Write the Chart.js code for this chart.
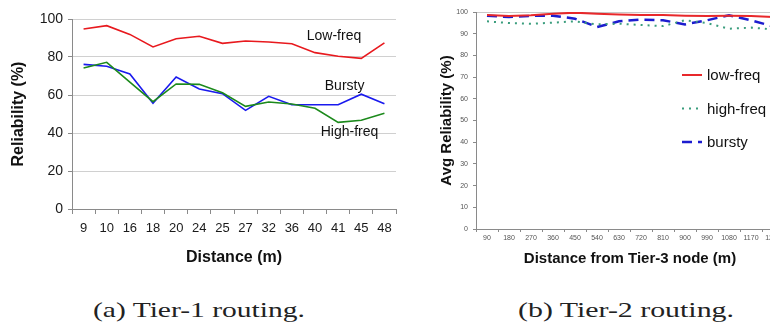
<!DOCTYPE html>
<html>
<head>
<meta charset="utf-8">
<script src="https://cdn.jsdelivr.net/npm/chart.js@4.4.1/dist/chart.umd.min.js"></script>
<style>
  html, body { margin:0; padding:0; background:#fff; width:770px; height:327px; overflow:hidden; position:relative; }
  .box { position:absolute; top:0; }
  .cap { position:absolute; font-family:"Liberation Serif","Times New Roman",serif; font-size:22px; line-height:1; color:#222; white-space:nowrap; transform-origin:0 0; }
</style>
</head>
<body>
<div class="box" style="left:0px;"><canvas id="c1" width="400" height="270"></canvas></div>
<div class="box" style="left:400px;"><canvas id="c2" width="400" height="270"></canvas></div>
<span class="cap" id="capA" style="left:93px; top:299px;">(a) Tier-1 routing.</span>
<span class="cap" id="capB" style="left:518px; top:299px;">(b) Tier-2 routing.</span>
<script>
// ---- Chart (a): Tier-1 routing ----
const distA = ['9','10','16','18','20','24','25','27','32','36','40','41','45','48'];
const lowA    = [94.7, 96.5, 91.9, 85.3, 89.6, 90.9, 87.2, 88.4, 87.9, 87.0, 82.3, 80.4, 79.3, 87.4];
const burstyA = [76.1, 75.1, 71.1, 55.6, 69.5, 63.2, 60.7, 51.9, 59.3, 54.9, 54.9, 54.9, 60.4, 55.4];
const highA   = [74.2, 77.2, 66.8, 56.5, 65.8, 65.6, 61.2, 54.0, 56.3, 55.3, 53.0, 45.6, 46.7, 50.4];
const yTicksA = [0, 20, 40, 60, 80, 100];

// ---- Chart (b): Tier-2 routing ----
const distB = ['90','180','270','360','450','540','630','720','810','900','990','1080','1170','1260'];
const lowB    = [98.6, 98.2, 98.5, 99.2, 99.7, 99.2, 98.9, 98.6, 98.6, 98.3, 98.2, 98.3, 98.2, 97.7];
const highB   = [95.7, 94.9, 94.6, 95.1, 95.7, 94.3, 94.6, 94.0, 93.5, 96.2, 94.9, 92.3, 92.8, 92.0];
const burstyB = [98.3, 97.7, 98.2, 98.3, 96.9, 93.1, 95.7, 96.5, 96.2, 94.3, 96.2, 98.5, 96.2, 93.4];
const yTicksB = [0, 10, 20, 30, 40, 50, 60, 70, 80, 90, 100];

Chart.defaults.font.family = "'Liberation Sans', Arial, sans-serif";
Chart.defaults.animation = false;

// in-chart series labels for (a): position given in (category index, value)
const seriesLabelsA = [
  { text: 'Low-freq',  xi: 10.82, y: 91.1 },
  { text: 'Bursty',    xi: 11.28, y: 64.7 },
  { text: 'High-freq', xi: 11.49, y: 40.5 }
];

const labelPlugin = {
  id: 'seriesLabels',
  afterDatasetsDraw(chart, args, opts) {
    if (!opts.items) return;
    const ctx = chart.ctx, xs = chart.scales.x, ys = chart.scales.y;
    ctx.save();
    ctx.font = opts.font;
    ctx.fillStyle = opts.color;
    ctx.textAlign = 'center';
    ctx.textBaseline = 'middle';
    opts.items.forEach(it => {
      ctx.fillText(it.text, xs.getPixelForValue(it.xi), ys.getPixelForValue(it.y));
    });
    ctx.restore();
  }
};

const legendPlugin = {
  id: 'boxLegend',
  afterDatasetsDraw(chart, args, opts) {
    if (!opts.show) return;
    const ctx = chart.ctx;
    ctx.save();
    ctx.font = opts.font;
    ctx.textBaseline = 'middle';
    ctx.textAlign = 'left';
    chart.data.datasets.forEach((ds, i) => {
      const y = opts.y0 + i * opts.dy;
      ctx.strokeStyle = ds.borderColor;
      ctx.lineWidth = ds.borderWidth;
      ctx.setLineDash(ds.borderDash || []);
      ctx.beginPath();
      ctx.moveTo(opts.x0, y);
      ctx.lineTo(opts.x0 + opts.len, y);
      ctx.stroke();
      ctx.setLineDash([]);
      ctx.fillStyle = opts.color;
      ctx.fillText(ds.label, opts.x0 + opts.len + opts.gap, y + 1);
    });
    ctx.restore();
  }
};

function lineDs(label, data, color, width, dash) {
  return { label, data, borderColor: color, backgroundColor: color, borderWidth: width,
           borderDash: dash || [], pointRadius: 0, tension: 0, fill: false };
}

new Chart(document.getElementById('c1'), {
  type: 'line',
  data: {
    labels: distA,
    datasets: [
      lineDs('Low-freq', lowA, '#e8191e', 1.6),
      lineDs('High-freq', highA, '#1c8a1c', 1.6),
      lineDs('Bursty', burstyA, '#1a1aee', 1.6)
    ]
  },
  options: {
    responsive: false,
    devicePixelRatio: 1,
    layout: { padding: { left: 0, right: 4, top: 19, bottom: 0 } },
    plugins: {
      legend: { display: false }, tooltip: { enabled: false },
      seriesLabels: { items: seriesLabelsA, font: "14px 'Liberation Sans', Arial, sans-serif", color: '#111' }
    },
    scales: {
      x: {
        offset: true,
        grid: { offset: true, drawOnChartArea: false, drawTicks: true, tickLength: 5, tickColor: '#8a8a8a' },
        border: { color: '#8a8a8a', width: 1 },
        ticks: { font: { size: 13 }, color: '#1a1a1a', padding: 7, maxRotation: 0, autoSkip: false },
        title: { display: true, text: 'Distance (m)', font: { size: 16, weight: 'bold' }, color: '#111', padding: { top: 0, bottom: 3 } },
        afterFit(s) { s.height = 61; }
      },
      y: {
        min: 0, max: 100,
        afterBuildTicks(s) { s.ticks = yTicksA.map(v => ({ value: v })); },
        grid: { color: '#d0d0d0', tickLength: 4, tickColor: '#8a8a8a' },
        border: { color: '#8a8a8a', width: 1 },
        ticks: { font: { size: 14 }, color: '#1a1a1a', padding: 5 },
        title: { display: true, text: 'Reliability (%)', font: { size: 16, weight: 'bold' }, color: '#111', padding: { top: 9, bottom: 0 } },
        afterFit(s) { s.width = 72; }
      }
    }
  },
  plugins: [labelPlugin]
});

new Chart(document.getElementById('c2'), {
  type: 'line',
  data: {
    labels: distB,
    datasets: [
      lineDs('low-freq', lowB, '#e8282b', 2),
      lineDs('high-freq', highB, '#3a9d7d', 2, [2, 5]),
      lineDs('bursty', burstyB, '#1c1ccf', 2.5, [10, 6])
    ]
  },
  options: {
    responsive: false,
    devicePixelRatio: 1,
    layout: { padding: { left: 0, right: 16, top: 12, bottom: 0 } },
    plugins: {
      legend: { display: false }, tooltip: { enabled: false },
      boxLegend: { show: true, x0: 282, len: 20, gap: 5, y0: 75, dy: 33.5, font: "15px 'Liberation Sans', Arial, sans-serif", color: '#111' }
    },
    scales: {
      x: {
        offset: true,
        grid: { offset: true, drawOnChartArea: false, drawTicks: true, tickLength: 3, tickColor: '#8a8a8a' },
        border: { color: '#8a8a8a', width: 1 },
        ticks: { font: { size: 7 }, color: '#555', padding: 2, maxRotation: 0, autoSkip: false },
        title: { display: true, text: 'Distance from Tier-3 node (m)', font: { size: 15, weight: 'bold' }, color: '#111', padding: { top: 0, bottom: 2 } },
        afterFit(s) { s.height = 41; }
      },
      y: {
        min: 0, max: 100,
        afterBuildTicks(s) { s.ticks = yTicksB.map(v => ({ value: v })); },
        grid: { color: (c) => (c.tick && c.tick.value === 100 ? '#c8c8c8' : 'rgba(0,0,0,0)'), tickLength: 3, tickColor: '#8a8a8a' },
        border: { color: '#8a8a8a', width: 1 },
        ticks: { font: { size: 7 }, color: '#555', padding: 5 },
        title: { display: true, text: 'Avg Reliability (%)', font: { size: 15, weight: 'bold' }, color: '#111', padding: { top: 38, bottom: 0 } },
        afterFit(s) { s.width = 76; }
      }
    }
  }
  ,plugins: [legendPlugin]
});

// fit captions to the reference width
[['capA', 212], ['capB', 216]].forEach(([id, w]) => {
  const el = document.getElementById(id);
  const cw = el.getBoundingClientRect().width;
  el.style.transform = 'scaleX(' + (w / cw).toFixed(3) + ')';
});
</script>
</body>
</html>
